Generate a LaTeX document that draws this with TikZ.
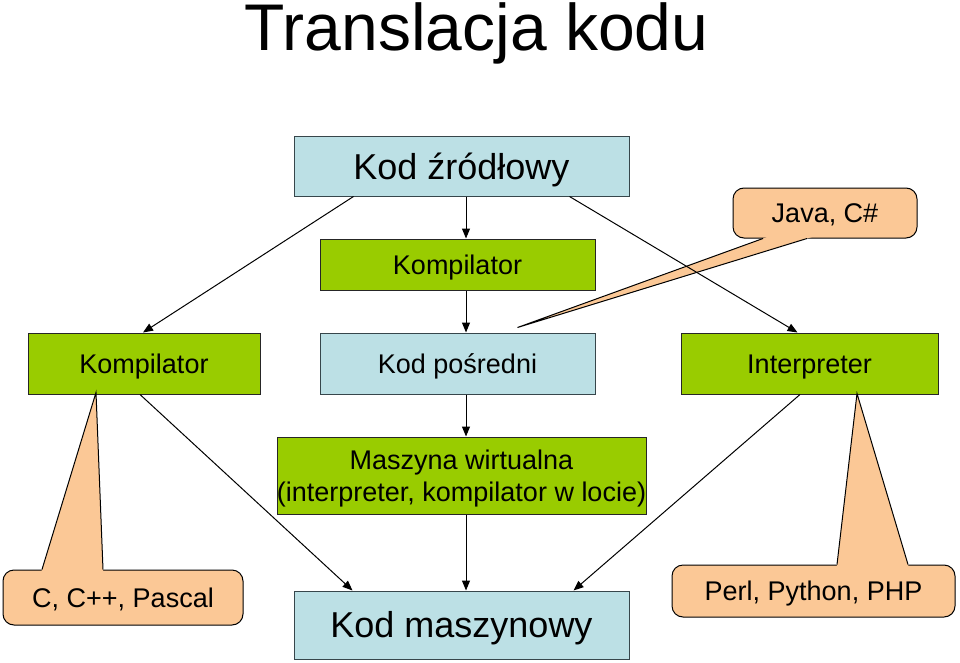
\documentclass[tikz,border=0pt]{standalone}
\usepackage{fontspec}
\setmainfont{Liberation Sans}
\usetikzlibrary{arrows.meta,calc}
\definecolor{kgreen}{RGB}{153,204,0}
\definecolor{kblue}{RGB}{188,224,229}
\definecolor{kpeach}{RGB}{251,200,150}
\definecolor{kslate}{RGB}{55,70,75}
\tikzset{
  box/.style={draw=black!85, line width=1pt, inner sep=0pt, align=center,
    font=\fontsize{27}{32}\selectfont},
  onerow/.style={text height=19.3pt, text depth=0pt},
  greenbox/.style={box, onerow, fill=kgreen},
  bluebox/.style={box, onerow, draw=kslate, fill=kblue},
  bigtext/.style={font=\fontsize{36}{40}\selectfont, text height=25.8pt},
  callout/.style={draw, line width=1pt, fill=kpeach, rounded corners=11pt,
    inner sep=0pt, onerow, font=\fontsize{27}{32}\selectfont},
  arr/.style={line width=1pt, -{Triangle[length=10pt,width=8pt]}},
}
\begin{document}
\begin{tikzpicture}[x=1pt,y=-1pt]
\useasboundingbox (0,0) rectangle (960,663);
\node[anchor=base,font=\fontsize{66}{70}\selectfont] (title) at (476.5,51) {Translacja kodu};
% boxes
\node[bluebox,bigtext,minimum width=335pt,minimum height=59pt] (src) at (461.5,166.5) {Kod źródłowy};
\node[greenbox,minimum width=275pt,minimum height=51pt] (komp) at (457.5,264.5) {Kompilator};
\node[greenbox,minimum width=232pt,minimum height=61pt] (kompL) at (144,363.5) {Kompilator};
\node[bluebox,minimum width=275pt,minimum height=61pt] (mid) at (457.5,363.5) {Kod pośredni};
\node[greenbox,minimum width=257pt,minimum height=61pt] (interp) at (809.5,363.5) {Interpreter};
\node[box,fill=kgreen,minimum width=369pt,minimum height=77pt] (vm) at (461.5,475.5) {};
\node[font=\fontsize{27}{32}\selectfont,align=center] (vmtext) at ([yshift=-3pt]vm.center)
  {Maszyna wirtualna\\(interpreter, kompilator w locie)};
\node[bluebox,bigtext,minimum width=335pt,minimum height=68pt] (mach) at (461.5,625) {Kod maszynowy};
% callouts
\node[callout,minimum width=184pt,minimum height=50pt] (java) at (825,213) {Java, C\#};
\node[callout,minimum width=240pt,minimum height=55pt] (pascal) at (123,597.5) {C, C++, Pascal};
\node[callout,minimum width=283pt,minimum height=52pt] (perl) at (813.5,591) {Perl, Python, PHP};
\coordinate (jt) at ([xshift=60pt,yshift=5pt]mid.north);
\coordinate (ja) at ([xshift=-62pt]java.south);
\coordinate (jb) at ([xshift=-18pt]java.south);
\fill[kpeach] (jt) -- ($(jt)!1.03!(ja)$) -- ($(jt)!1.03!(jb)$) -- cycle;
\draw[line width=1pt] (ja) -- (jt) -- (jb);
\coordinate (pt) at ([xshift=-48pt,yshift=2pt]kompL.south);
\coordinate (pa) at ([xshift=-81pt]pascal.north);
\coordinate (pb) at ([xshift=-20pt]pascal.north);
\fill[kpeach] (pt) -- ($(pt)!1.03!(pa)$) -- ($(pt)!1.03!(pb)$) -- cycle;
\draw[line width=1pt] (pa) -- (pt) -- (pb);
\coordinate (qt) at ([xshift=47.5pt,yshift=1pt]interp.south);
\coordinate (qa) at ([xshift=23.5pt]perl.north);
\coordinate (qb) at ([xshift=94.5pt]perl.north);
\fill[kpeach] (qt) -- ($(qt)!1.03!(qa)$) -- ($(qt)!1.03!(qb)$) -- cycle;
\draw[line width=1pt] (qa) -- (qt) -- (qb);
% arrows
\draw[arr] ([xshift=4.5pt]src.south) -- ([xshift=8.5pt]komp.north);
\draw[arr] ([xshift=8.5pt]komp.south) -- ([xshift=8.5pt]mid.north);
\draw[arr] ([xshift=8.5pt]mid.south) -- ([xshift=4.5pt]vm.north);
\draw[arr] ([xshift=4.5pt]vm.south) -- ([xshift=4.5pt]mach.north);
\draw[arr] ([xshift=-108pt]src.south) -- ([xshift=-1pt]kompL.north);
\draw[arr] ([xshift=108pt]src.south) -- ([xshift=-12pt]interp.north);
\draw[arr] ([xshift=-4pt]kompL.south) -- ([xshift=-109pt]mach.north);
\draw[arr] ([xshift=-9.5pt]interp.south) -- ([xshift=112pt]mach.north);
\end{tikzpicture}
\end{document}
